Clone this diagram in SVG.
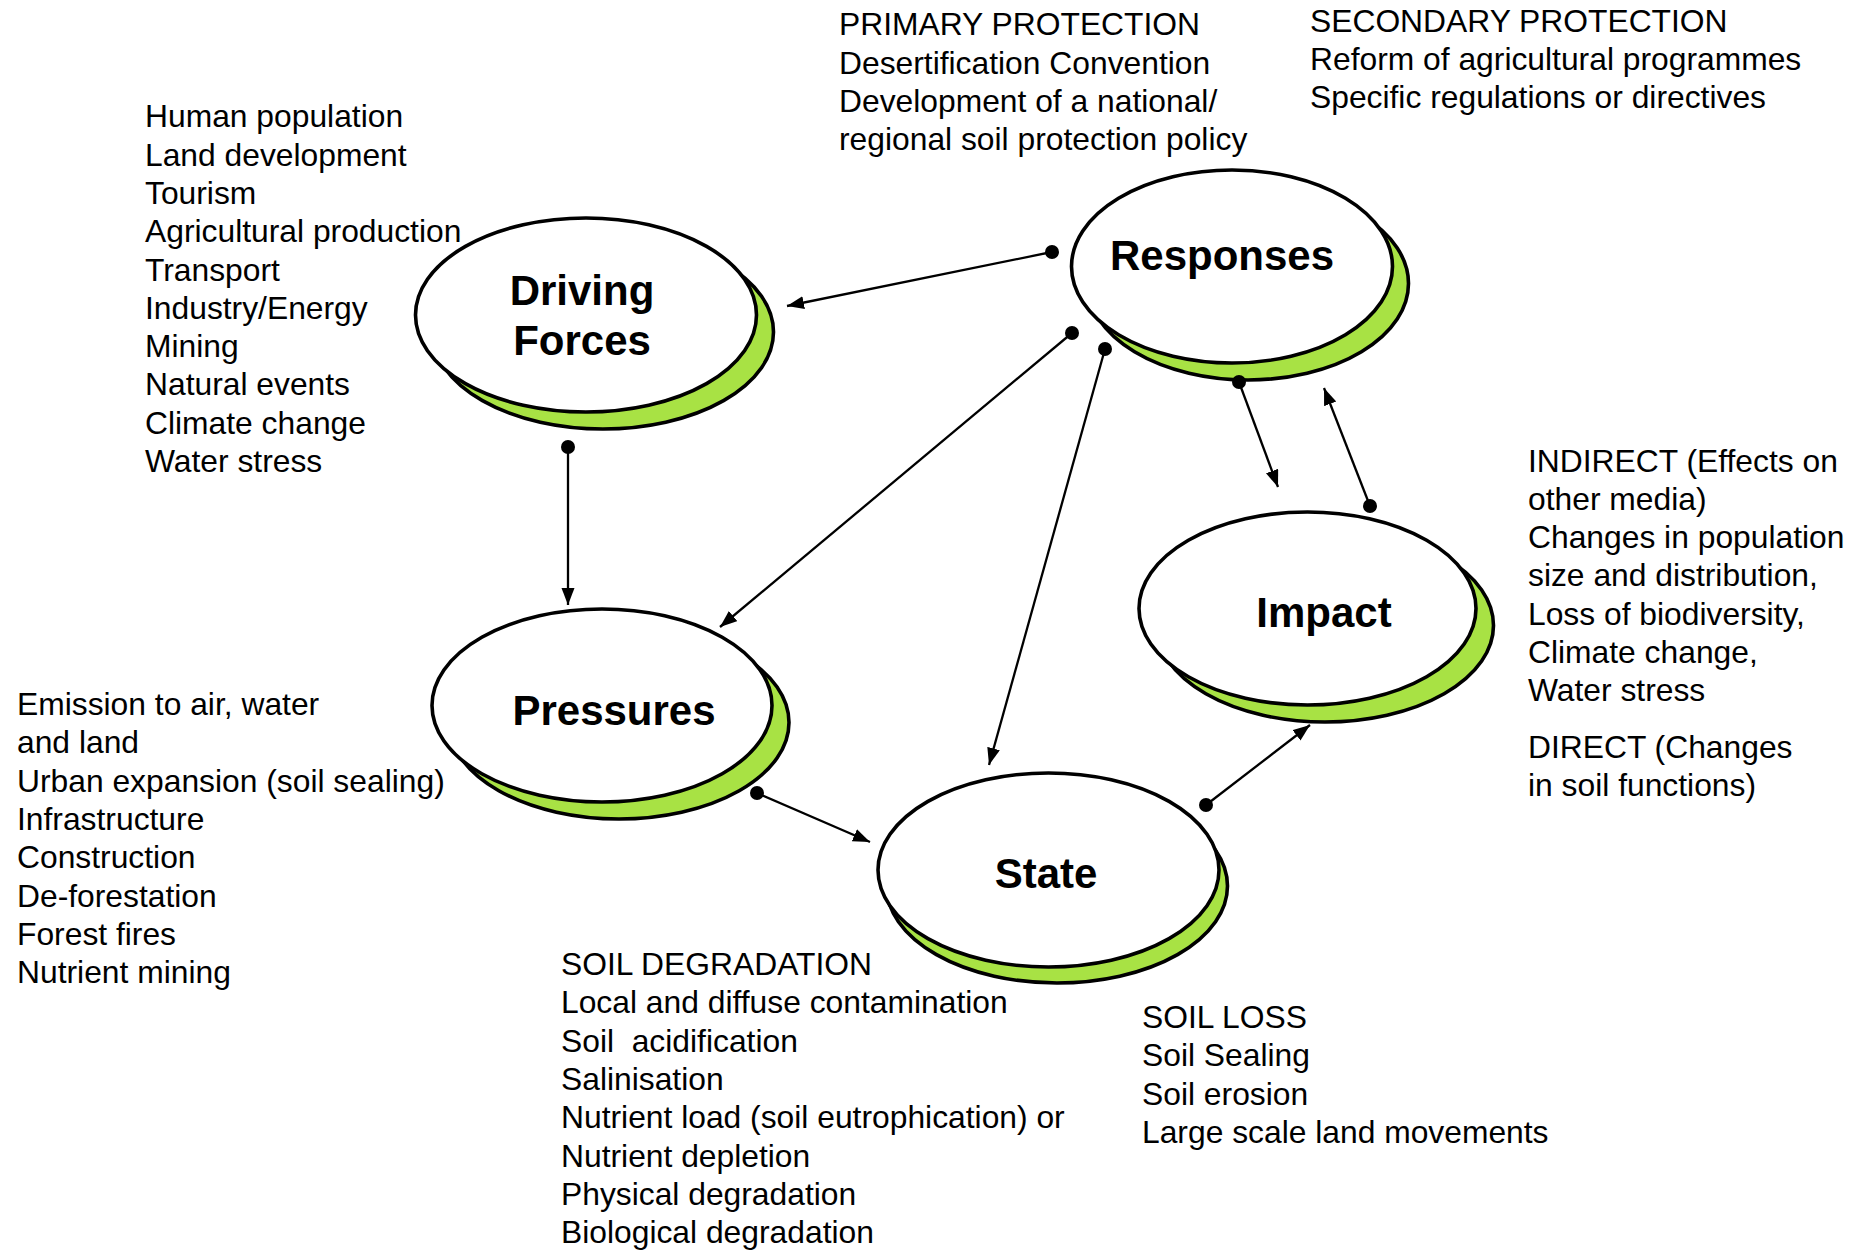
<svg xmlns="http://www.w3.org/2000/svg" width="1860" height="1250" viewBox="0 0 1860 1250">
<style>
.shadow{fill:#a8e244;stroke:#000;stroke-width:3.6}
.front{fill:#fff;stroke:#000;stroke-width:3.6}
.title{font-family:"Liberation Sans",Arial,sans-serif;font-weight:bold;font-size:42px;text-anchor:middle;fill:#000}
.lbl{font-family:"Liberation Sans",Arial,sans-serif;font-size:31.8px;fill:#000}
.conn{stroke:#000;stroke-width:2.3;fill:none;marker-start:url(#dot);marker-end:url(#arr)}
</style>
<defs>
<marker id="arr" markerUnits="userSpaceOnUse" markerWidth="18" markerHeight="14" refX="17" refY="6.5" orient="auto" viewBox="0 0 18 14"><path d="M0,0 L17,6.5 L0,13 z" fill="#000"/></marker>
<marker id="dot" markerUnits="userSpaceOnUse" markerWidth="16" markerHeight="16" refX="8" refY="8" viewBox="0 0 16 16"><circle cx="8" cy="8" r="7" fill="#000"/></marker>
</defs>
<rect width="1860" height="1250" fill="#fff"/>

<g id="driving-forces">
<ellipse class="shadow" cx="603" cy="332" rx="170.5" ry="97"/>
<ellipse class="front" cx="586" cy="315" rx="170.5" ry="97"/>
<text class="title" x="582" y="305">Driving</text>
<text class="title" x="582" y="355">Forces</text>
</g>

<g id="responses">
<ellipse class="shadow" cx="1248" cy="283.5" rx="160.5" ry="96.5"/>
<ellipse class="front" cx="1232" cy="266.5" rx="160.5" ry="96.5"/>
<text class="title" x="1222" y="270">Responses</text>
</g>

<g id="pressures">
<ellipse class="shadow" cx="619" cy="722.5" rx="170" ry="96.5"/>
<ellipse class="front" cx="602" cy="705.5" rx="170" ry="96.5"/>
<text class="title" x="614" y="725">Pressures</text>
</g>

<g id="impact">
<ellipse class="shadow" cx="1325" cy="625.5" rx="168.5" ry="96.5"/>
<ellipse class="front" cx="1307.5" cy="608.5" rx="168.5" ry="96.5"/>
<text class="title" x="1324" y="627">Impact</text>
</g>

<g id="state">
<ellipse class="shadow" cx="1057" cy="886" rx="170.5" ry="97"/>
<ellipse class="front" cx="1048.5" cy="870" rx="170.5" ry="97"/>
<text class="title" x="1046" y="888">State</text>
</g>

<g id="connectors">
<line class="conn" x1="1052" y1="252" x2="787" y2="306"/>
<line class="conn" x1="568" y1="447" x2="568" y2="605"/>
<line class="conn" x1="1072" y1="333" x2="720" y2="627"/>
<line class="conn" x1="1105" y1="349" x2="989" y2="765"/>
<line class="conn" x1="1239" y1="382" x2="1278" y2="487"/>
<line class="conn" x1="1370" y1="506" x2="1324" y2="388"/>
<line class="conn" x1="757" y1="793" x2="870" y2="842"/>
<line class="conn" x1="1206" y1="805" x2="1310" y2="725"/>
</g>

<g id="driving-forces-list" class="lbl">
<text x="145" y="127.3">Human population</text>
<text x="145" y="165.6">Land development</text>
<text x="145" y="203.9">Tourism</text>
<text x="145" y="242.2">Agricultural production</text>
<text x="145" y="280.5">Transport</text>
<text x="145" y="318.8">Industry/Energy</text>
<text x="145" y="357.1">Mining</text>
<text x="145" y="395.4">Natural events</text>
<text x="145" y="433.7">Climate change</text>
<text x="145" y="472">Water stress</text>
</g>

<g id="responses-primary" class="lbl">
<text x="839" y="35">PRIMARY PROTECTION</text>
<text x="839" y="74">Desertification Convention</text>
<text x="839" y="112">Development of a national/</text>
<text x="839" y="150">regional soil protection policy</text>
</g>

<g id="responses-secondary" class="lbl">
<text x="1310" y="32">SECONDARY PROTECTION</text>
<text x="1310" y="70">Reform of agricultural programmes</text>
<text x="1310" y="108">Specific regulations or directives</text>
</g>

<g id="impact-list" class="lbl">
<text x="1528" y="471.5">INDIRECT (Effects on</text>
<text x="1528" y="509.8">other media)</text>
<text x="1528" y="548.1">Changes in population</text>
<text x="1528" y="586.4">size and distribution,</text>
<text x="1528" y="624.7">Loss of biodiversity,</text>
<text x="1528" y="663">Climate change,</text>
<text x="1528" y="701.3">Water stress</text>
<text x="1528" y="758">DIRECT (Changes</text>
<text x="1528" y="796">in soil functions)</text>
</g>

<g id="pressures-list" class="lbl">
<text x="17" y="715">Emission to air, water</text>
<text x="17" y="753.3">and land</text>
<text x="17" y="791.6">Urban expansion (soil sealing)</text>
<text x="17" y="829.9">Infrastructure</text>
<text x="17" y="868.2">Construction</text>
<text x="17" y="906.5">De-forestation</text>
<text x="17" y="944.8">Forest fires</text>
<text x="17" y="983.1">Nutrient mining</text>
</g>

<g id="state-degradation" class="lbl">
<text x="561" y="975">SOIL DEGRADATION</text>
<text x="561" y="1013.3">Local and diffuse contamination</text>
<text x="561" y="1051.6" xml:space="preserve">Soil  acidification</text>
<text x="561" y="1089.9">Salinisation</text>
<text x="561" y="1128.2">Nutrient load (soil eutrophication) or</text>
<text x="561" y="1166.5">Nutrient depletion</text>
<text x="561" y="1204.8">Physical degradation</text>
<text x="561" y="1243.1">Biological degradation</text>
</g>

<g id="state-loss" class="lbl">
<text x="1142" y="1028">SOIL LOSS</text>
<text x="1142" y="1066.3">Soil Sealing</text>
<text x="1142" y="1104.6">Soil erosion</text>
<text x="1142" y="1142.9">Large scale land movements</text>
</g>
</svg>
